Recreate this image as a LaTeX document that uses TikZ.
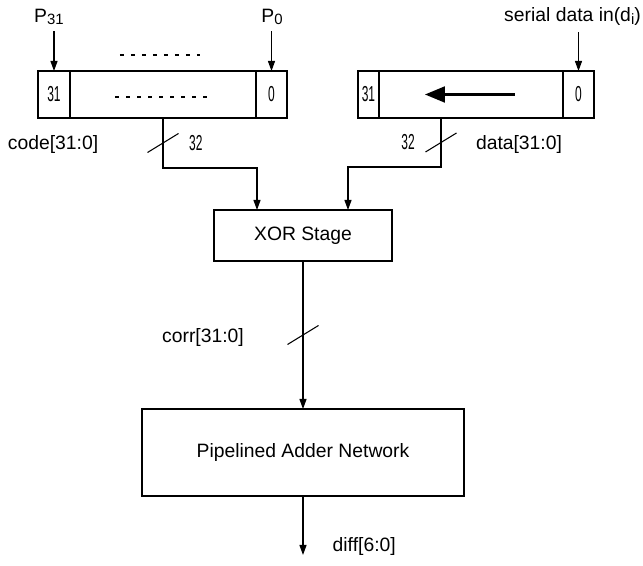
\documentclass[tikz,border=0pt]{standalone}
\usepackage{fontspec}
\setmainfont{Liberation Sans}
\usepackage{graphicx}
\usetikzlibrary{arrows.meta, positioning}

% condensed digits for register cells and bus widths
\newcommand{\narrow}[1]{\scalebox{0.62}[1.12]{#1}}
% pin subscript, only slightly lowered
\newcommand{\pin}[1]{\raisebox{-0.25ex}{\fontsize{8.5}{9}\selectfont #1}}

\begin{document}
\begin{tikzpicture}[
  every node/.style={font=\fontsize{11}{13}\selectfont},
  cell/.style={rectangle, draw, line width=1.1pt, minimum height=0.94cm, inner sep=0pt, outer sep=0pt},
  stage/.style={rectangle, draw, line width=1.1pt, outer sep=0pt, text centered},
  wire/.style={line width=0.6pt},
  dots/.style={line width=0.6pt, dash pattern=on 0.08cm off 0.14cm},
  >={Triangle[length=2mm, width=1.4mm]}
]
  \useasboundingbox (0,0) rectangle (12.86,-11.32);

  % code register
  \node[cell, minimum width=0.64cm] (lhi) at (1.08,-1.89) {\narrow{31}};
  \node[cell, minimum width=3.72cm, right=0pt of lhi] (lmid) {};
  \node[cell, minimum width=0.62cm, right=0pt of lmid] (llo) {\narrow{0}};

  % data shift register
  \node[cell, minimum width=0.42cm] (rhi) at (7.37,-1.89) {\narrow{31}};
  \node[cell, minimum width=3.68cm, right=0pt of rhi] (rmid) {};
  \node[cell, minimum width=0.62cm, right=0pt of rmid] (rlo) {\narrow{0}};

  \node (p31) at (0.98,-0.34) {P\pin{31}};
  \node (p0) at (5.44,-0.34) {P\pin{0}};
  \node (sdin) at (11.45,-0.34) {serial data in(d\pin{i})};

  \draw[wire, ->] (lhi |- p31.south) -- (lhi.north);
  \draw[wire, ->] (llo |- p0.south) -- (llo.north);
  \draw[wire, ->] (rlo |- sdin.south) -- (rlo.north);

  \draw[dots] (2.4,-1.1) -- (4.0,-1.1);
  \draw[dots] (2.3,-1.94) -- (4.2,-1.94);
  \draw[line width=1.2pt, -{Triangle[length=4mm, width=3.2mm]}] ([xshift=0.88cm]rmid.center) -- ([xshift=-0.92cm]rmid.center);

  \node[stage, minimum width=3.56cm, minimum height=1.02cm] (xor) at (6.06,-4.71) {XOR Stage};
  \node[stage, minimum width=6.44cm, minimum height=1.74cm] (adder) at (6.06,-9.05) {Pipelined Adder Network};

  % buses
  \draw[wire, ->] (lmid.south) -- coordinate[midway] (cbus) ++(0,-1) -| ([xshift=-0.92cm]xor.north);
  \draw[wire, ->] ([xshift=-0.6cm]rmid.south) -- coordinate[midway] (dbus) ++(0,-0.98) -| ([xshift=0.9cm]xor.north);
  \draw[wire, ->] (xor.south) -- coordinate[midway] (rbus) (adder.north);
  \coordinate (dout) at (6.06,-11.1);
  \draw[wire, ->] (adder.south) -- (dout);

  \foreach \b in {cbus,dbus,rbus}
    \draw[wire] ([shift={(-0.31,-0.19)}]\b) -- ([shift={(0.31,0.19)}]\b);

  \node (codelbl) at (1.06,-2.9) {code[31:0]};
  \node[right=0.4cm of cbus] (cwidth) {\narrow{32}};
  \node[left=0.4cm of dbus] (dwidth) {\narrow{32}};
  \node (datalbl) at (10.38,-2.9) {data[31:0]};
  \node (corrlbl) at (4.06,-6.76) {corr[31:0]};
  \node[anchor=west] (difflbl) at (6.53,-10.94) {diff[6:0]};
\end{tikzpicture}
\end{document}
